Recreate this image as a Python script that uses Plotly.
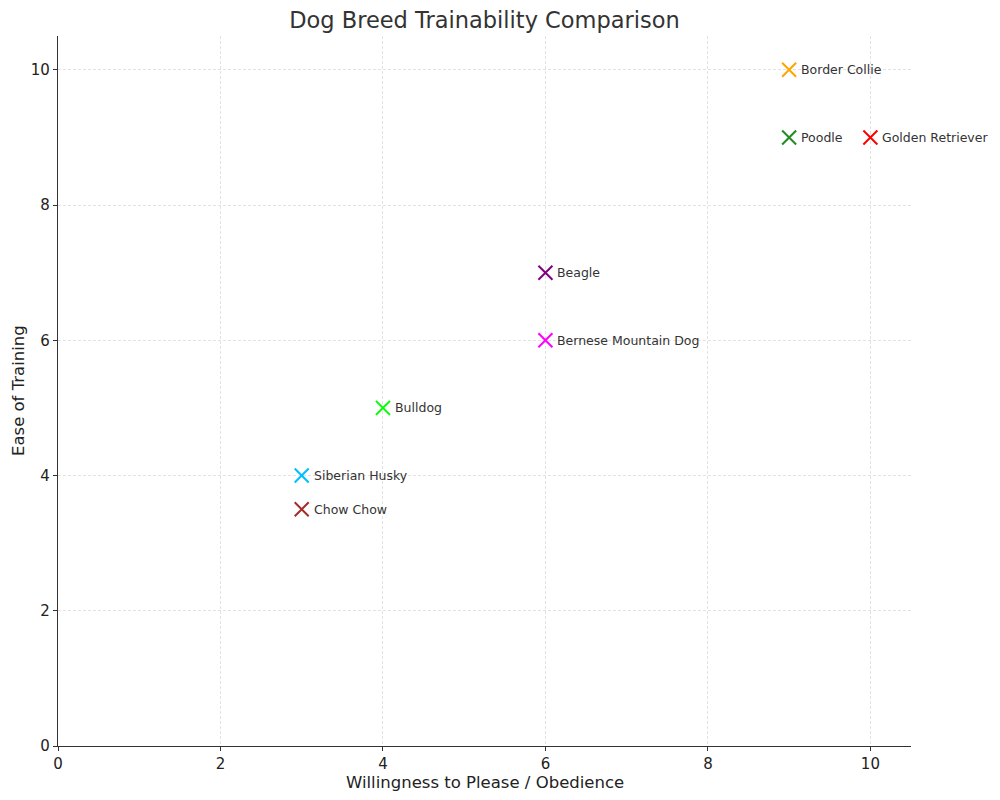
import plotly.graph_objects as go

breeds = ["Border Collie", "Poodle", "Golden Retriever", "Beagle",
          "Bernese Mountain Dog", "Bulldog", "Siberian Husky", "Chow Chow"]
obedience = [9, 9, 10, 6, 6, 4, 3, 3]
ease = [10, 9, 9, 7, 6, 5, 4, 3.5]
colors = ["#FFA500", "#228B22", "#FF0000", "#800080",
          "#FF00FF", "#00FF00", "#00BFFF", "#A52A2A"]
ticks = [0, 2, 4, 6, 8, 10]

FONT = "DejaVu Sans"

fig = go.Figure()
for b, xv, yv, c in zip(breeds, obedience, ease, colors):
    fig.add_trace(go.Scatter(
        x=[xv], y=[yv], mode="markers", name=b,
        marker=dict(symbol="x-thin", size=14, line=dict(color=c, width=2)),
        showlegend=False,
    ))
    fig.add_annotation(x=xv, y=yv, text=b, showarrow=False, xanchor="left",
                       yanchor="middle", xshift=10,
                       font=dict(family=FONT, size=12.5, color="#333333"))

axis_common = dict(
    tickvals=ticks, ticks="outside", ticklen=4, tickwidth=1, tickcolor="#333",
    showline=True, linecolor="#333", linewidth=1.2, mirror=False,
    showgrid=True, gridcolor="#e2e2e2", griddash="3px,2px", gridwidth=1,
    zeroline=False, automargin=False,
    tickfont=dict(family=FONT, size=15, color="#222"),
)

fig.update_layout(
    width=1000, height=800,
    margin=dict(l=58, r=89, t=36, b=54),
    paper_bgcolor="white", plot_bgcolor="white",
    title=dict(text="Dog Breed Trainability Comparison", x=0.4845, xanchor="center",
               y=0.975, yanchor="middle",
               font=dict(family=FONT, size=22.5, color="#333")),
    xaxis=dict(range=[0, 10.5], **axis_common),
    yaxis=dict(range=[0, 10.5], **axis_common),
)

fig.add_annotation(xref="paper", yref="paper", x=0.5, y=-36 / 710, yanchor="middle",
                   xanchor="center", text="Willingness to Please / Obedience",
                   showarrow=False, font=dict(family=FONT, size=16.5, color="#222"))
fig.add_annotation(xref="paper", yref="paper", x=-40 / 853, y=0.5, textangle=-90,
                   xanchor="center", yanchor="middle", text="Ease of Training",
                   showarrow=False, font=dict(family=FONT, size=16.5, color="#222"))

fig.write_html("out.html")
